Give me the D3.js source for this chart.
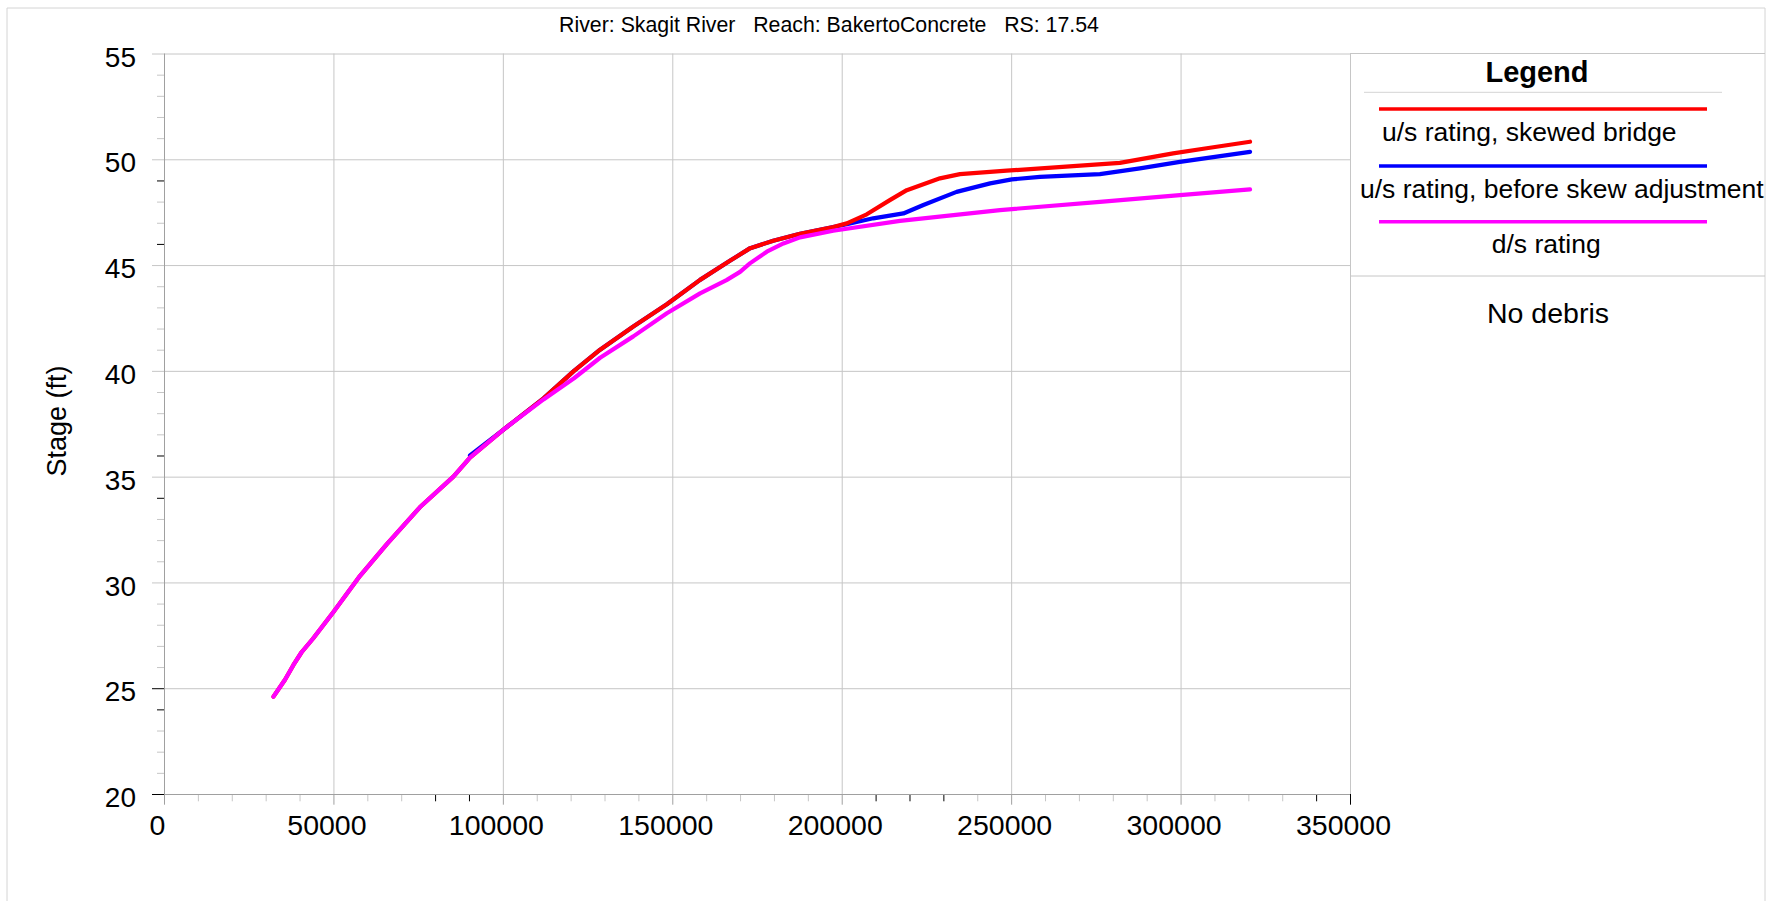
<!DOCTYPE html>
<html><head><meta charset="utf-8">
<script src="https://cdn.jsdelivr.net/npm/d3@7"></script>
<style>
body{margin:0;background:#fff;}
svg{display:block;}
text{font-family:"Liberation Sans",Arial,Helvetica,sans-serif;fill:#000;}
</style>
</head><body>
<svg id="chart" width="1780" height="901"></svg>
<script>
// ---------- data ----------
const titleText = "River: Skagit River   Reach: BakertoConcrete   RS: 17.54";
const yLabel = "Stage (ft)";
const xTicks = [0, 50000, 100000, 150000, 200000, 250000, 300000, 350000];
const yTicks = [20, 25, 30, 35, 40, 45, 50, 55];
const xMinorBlack = [80000, 90000, 210000, 220000, 230000, 340000];
const yMinorBlack = [24, 34, 36, 46, 49];

const seriesNames = ["u/s rating, skewed bridge", "u/s rating, before skew adjustment", "d/s rating"];
const seriesColors = ["#ff0000", "#0000ff", "#ff00ff"];

// u/s rating, skewed bridge
const qSkewed = [32300, 35700, 38200, 40600, 44000, 50000, 57800, 65700, 75500, 85400, 90300, 100000, 112000,
  121000, 128700, 138500, 148400, 158200, 167000, 173000, 179800, 187700, 197500, 201500, 207400, 214200,
  219200, 229000, 234900, 248700, 268300, 282100, 297800, 307700, 320500];
const stageSkewed = [24.60, 25.40, 26.10, 26.70, 27.35, 28.60, 30.30, 31.80, 33.55, 35.00, 35.90, 37.20, 38.70,
  40.00, 41.00, 42.10, 43.15, 44.30, 45.20, 45.80, 46.15, 46.48, 46.80, 46.97, 47.40, 48.07,
  48.54, 49.10, 49.30, 49.46, 49.68, 49.83, 50.28, 50.52, 50.83];

// u/s rating, before skew adjustment
const qBefore = [90300, 100000, 112000,
  121000, 128700, 138500, 148400, 158200, 167000, 173000, 179800, 187700, 197500, 201500, 209300, 218200,
  224100, 233900, 243800, 250200, 258500, 276200, 288000, 299800, 320500];
const stageBefore = [36.00, 37.20, 38.70,
  40.00, 41.00, 42.10, 43.15, 44.30, 45.20, 45.80, 46.15, 46.48, 46.80, 46.93, 47.21, 47.44,
  47.84, 48.46, 48.86, 49.05, 49.17, 49.30, 49.57, 49.88, 50.35];

// d/s rating
const qDown = [32300, 35700, 38200, 40600, 44000, 50000, 57800, 65700, 75500, 85400, 90300, 100000, 112000,
  121000, 128700, 138500, 148400, 158200, 166000, 170000, 172900, 177900, 182800, 187700, 197500,
  217200, 246700, 276200, 299800, 320500];
const stageDown = [24.60, 25.40, 26.10, 26.70, 27.35, 28.60, 30.30, 31.80, 33.55, 35.00, 35.90, 37.20, 38.65,
  39.65, 40.62, 41.63, 42.72, 43.66, 44.29, 44.68, 45.08, 45.63, 46.02, 46.31, 46.62,
  47.09, 47.60, 47.99, 48.31, 48.58];

const legendNote = "No debris";

// ---------- layout ----------
const svg = d3.select("#chart");
const L = 164, R = 1350, T = 53.5, B = 794;
const x = d3.scaleLinear().domain([0, 350000]).range([L, R]);
const y = d3.scaleLinear().domain([20, 55]).range([B, T]);
const gridColor = "#c6c6c6";
const axisColor = "#a0a0a0";
const frameColor = "#d4d4d4";

// outer frame
svg.append("line").attr("x1", 7).attr("x2", 7).attr("y1", 8).attr("y2", 901).attr("stroke", frameColor);
svg.append("line").attr("x1", 7).attr("x2", 1765).attr("y1", 8).attr("y2", 8).attr("stroke", frameColor);
svg.append("line").attr("x1", 1765).attr("x2", 1765).attr("y1", 8).attr("y2", 901).attr("stroke", frameColor);

// title
svg.append("text").attr("x", 829).attr("y", 32).attr("text-anchor", "middle")
  .style("font-size", "21.3px").style("white-space", "pre").text(titleText);

// grid (vertical)
const gx = svg.append("g").attr("transform", `translate(0,${B})`)
  .call(d3.axisBottom(x).tickValues(xTicks.slice(1)).tickSize(-(B - T)).tickFormat(""));
gx.select(".domain").remove();
gx.selectAll(".tick line").attr("stroke", gridColor);
// grid (horizontal)
const gy = svg.append("g").attr("transform", `translate(${L},0)`)
  .call(d3.axisLeft(y).tickValues(yTicks.slice(1)).tickSize(-(R - L)).tickFormat(""));
gy.select(".domain").remove();
gy.selectAll(".tick line").attr("stroke", gridColor);

// minor ticks x
const xMinor = d3.range(10000, 350000, 10000).filter(v => v % 50000 !== 0);
const mx = svg.append("g").attr("transform", `translate(0,${B})`)
  .call(d3.axisBottom(x).tickValues(xMinor).tickSize(7.3).tickFormat(""));
mx.select(".domain").remove();
mx.selectAll(".tick line").attr("stroke", d => xMinorBlack.includes(d) ? "#000" : gridColor);
// minor ticks y
const yMinor = d3.range(21, 55, 1).filter(v => v % 5 !== 0);
const my = svg.append("g").attr("transform", `translate(${L},0)`)
  .call(d3.axisLeft(y).tickValues(yMinor).tickSize(7).tickFormat(""));
my.select(".domain").remove();
my.selectAll(".tick line").attr("stroke", d => yMinorBlack.includes(d) ? "#000" : gridColor);

// major axes
const ax = svg.append("g").attr("transform", `translate(0,${B})`)
  .call(d3.axisBottom(x).tickValues(xTicks).tickSize(10.7).tickPadding(10.3).tickFormat(d3.format("d")));
ax.select(".domain").attr("stroke", axisColor).attr("d", `M${L},0.5H${R}`);
ax.selectAll(".tick line").attr("stroke", d => d === 350000 ? "#000" : axisColor);
ax.selectAll(".tick text").style("font-size", "28.5px").attr("fill", "#000").attr("dx", -7);

const ay = svg.append("g").attr("transform", `translate(${L},0)`)
  .call(d3.axisLeft(y).tickValues(yTicks).tickSize(12).tickPadding(16).tickFormat(d3.format("d")));
ay.select(".domain").attr("stroke", axisColor).attr("d", `M0.5,${T}V${B}`);
ay.selectAll(".tick line").attr("stroke", d => (d === 20 || d === 25) ? "#000" : gridColor);
ay.selectAll(".tick text").style("font-size", "28px").attr("fill", "#000").attr("dy", "0.45em");

// y label
svg.append("text").attr("transform", "translate(66,421) rotate(-90)").attr("text-anchor", "middle")
  .style("font-size", "27px").text(yLabel);

// series
const series = [
  {q: qBefore, s: stageBefore, c: seriesColors[1]},
  {q: qSkewed, s: stageSkewed, c: seriesColors[0]},
  {q: qDown, s: stageDown, c: seriesColors[2]}
];
const line = d3.line().x(d => x(d[0])).y(d => y(d[1]));
series.forEach(sr => {
  const pts = sr.q.map((q, i) => [q, sr.s[i]]);
  svg.append("path").datum(pts).attr("d", line).attr("fill", "none")
    .attr("stroke", sr.c).attr("stroke-width", 4.2).attr("stroke-linejoin", "round").attr("stroke-linecap", "round");
});

// legend
const lg = svg.append("g");
lg.append("line").attr("x1", R).attr("x2", 1765).attr("y1", T).attr("y2", T).attr("stroke", gridColor);
lg.append("line").attr("x1", R).attr("x2", 1765).attr("y1", 276).attr("y2", 276).attr("stroke", gridColor);
lg.append("line").attr("x1", 1364).attr("x2", 1722).attr("y1", 92.3).attr("y2", 92.3).attr("stroke", frameColor);
lg.append("text").attr("x", 1537).attr("y", 81.7).attr("text-anchor", "middle")
  .style("font-size", "29px").style("font-weight", "bold").text("Legend");
const legLineY = [109, 166, 221.7];
const legTextX = [1382, 1360, 1491.7];
const legTextY = [140.7, 197.7, 253.3];
seriesNames.forEach((n, i) => {
  lg.append("line").attr("x1", 1379).attr("x2", 1707).attr("y1", legLineY[i]).attr("y2", legLineY[i])
    .attr("stroke", seriesColors[i]).attr("stroke-width", 3.5);
  lg.append("text").attr("x", legTextX[i]).attr("y", legTextY[i]).style("font-size", "26.5px").text(n);
});
lg.append("text").attr("x", 1548).attr("y", 322.7).attr("text-anchor", "middle")
  .style("font-size", "28.5px").text(legendNote);
</script>
</body></html>
